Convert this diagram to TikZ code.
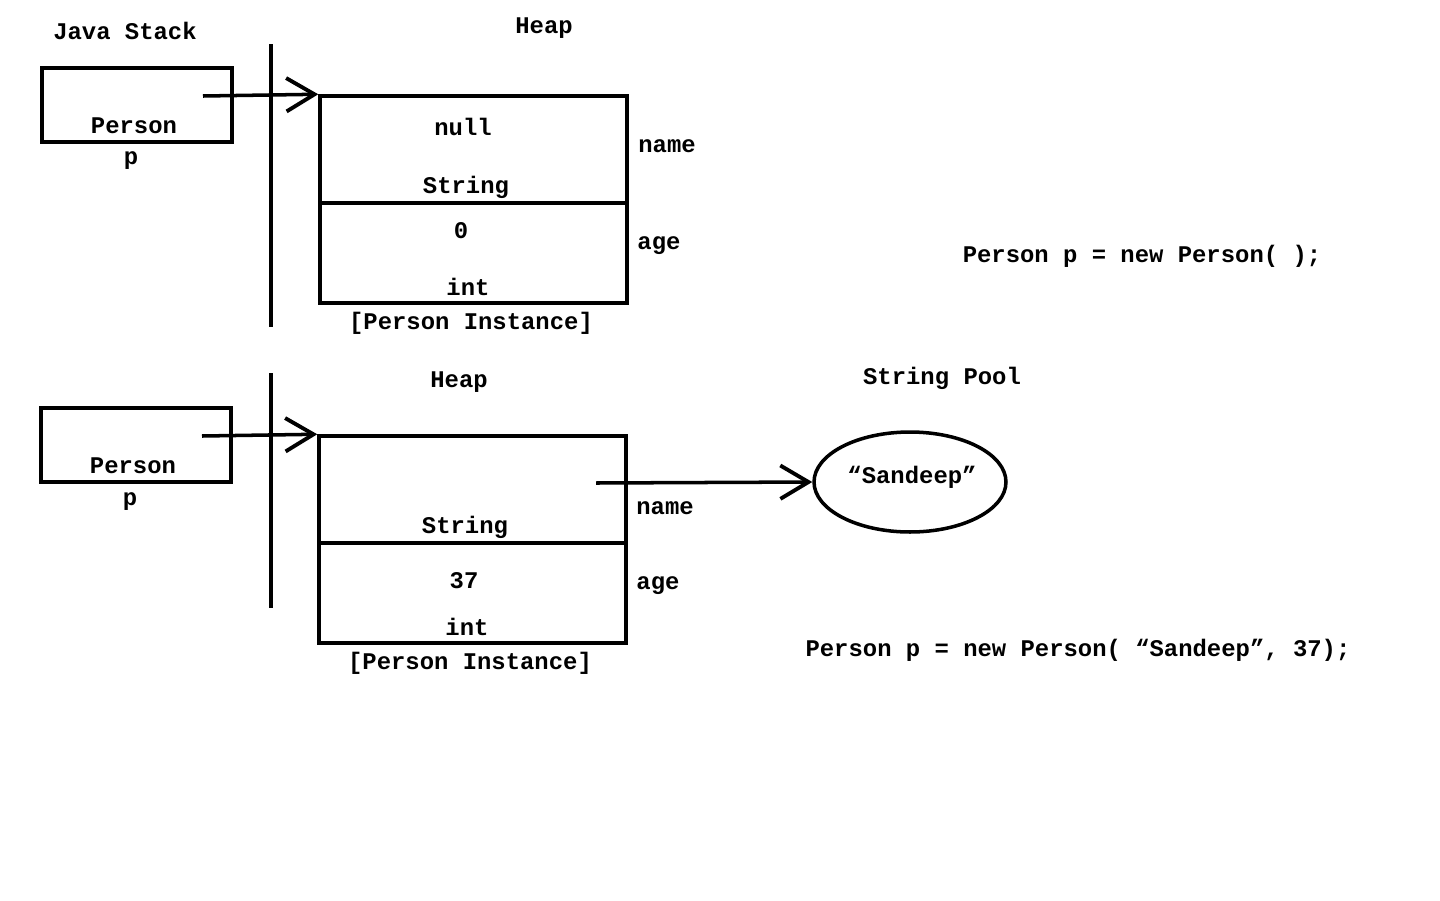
\documentclass[tikz,border=0pt]{standalone}
\usepackage{fontspec}
\setmainfont{Liberation Mono}
\usepackage{tikz}
\usetikzlibrary{arrows.meta,shapes}
\begin{document}
\begin{tikzpicture}[x=0.02cm, y=-0.02cm, line width=2pt, txt/.style={font=\bfseries\fontsize{13.6}{16}\selectfont, inner sep=0pt}, cell/.style={draw, rectangle, inner sep=0pt, minimum width=6.14cm}, stackbox/.style={draw, rectangle, inner sep=0pt, minimum width=3.8cm, minimum height=1.48cm}, ptr/.style={-{Straight Barb[length=16pt,width=19pt,line width=2.2pt]}}]
\useasboundingbox (0,0) rectangle (1440,900);
\node[txt] (js) at (125,31) {Java Stack};
\node[txt] (h1) at (544,28) {Heap};
\node[stackbox] (s1) at (137,105) {};
\node[txt] (s1t) at (134,126) {Person};
\node[txt] (s1p) at (131,161) {p};
\draw (271,44) -- (271,327);
\node[cell, minimum height=2.14cm] (n1) at (473.5,149.5) {};
\node[cell, minimum height=2cm] (a1) at (473.5,253) {};
\node[txt] (n1v) at (463,127) {null};
\node[txt] (n1t) at (466,187) {String};
\node[txt] (a1v) at (461,231) {0};
\node[txt] (a1t) at (468,287) {int};
\node[txt] (n1l) at (667,146) {name};
\node[txt] (a1l) at (659,246) {age};
\node[txt] (i1) at (471,323) {[Person Instance]};
\node[txt] (c1) at (1142,256) {Person p = new Person( );};
\coordinate (p1) at (203,96);
\draw[ptr] (p1) -- (n1.north west);
\node[txt] (h2) at (459,382) {Heap};
\node[stackbox] (s2) at (136,445) {};
\node[txt] (s2t) at (133,466) {Person};
\node[txt] (s2p) at (130,502) {p};
\draw (271,373) -- (271,608);
\node[cell, minimum height=2.14cm] (n2) at (472.5,489.5) {};
\node[cell, minimum height=2cm] (a2) at (472.5,593) {};
\node[txt] (n2t) at (465,527) {String};
\node[txt] (a2v) at (464,581) {37};
\node[txt] (a2t) at (467,627) {int};
\node[txt] (n2l) at (665,508) {name};
\node[txt] (a2l) at (658,586) {age};
\node[txt] (i2) at (470,663) {[Person Instance]};
\node[txt] (sp) at (942,378) {String Pool};
\node[draw, ellipse, inner sep=0pt, minimum width=3.84cm, minimum height=2cm] (pool) at (910,482) {};
\node[txt] (pv) at (912,477) {“Sandeep”};
\node[txt] (c2) at (1078,650) {Person p = new Person( “Sandeep”, 37);};
\coordinate (p2) at (596,483);
\draw[ptr] (p2) -- (pool.west);
\coordinate (p3) at (202,436);
\draw[ptr] (p3) -- (n2.north west);
\end{tikzpicture}
\end{document}
